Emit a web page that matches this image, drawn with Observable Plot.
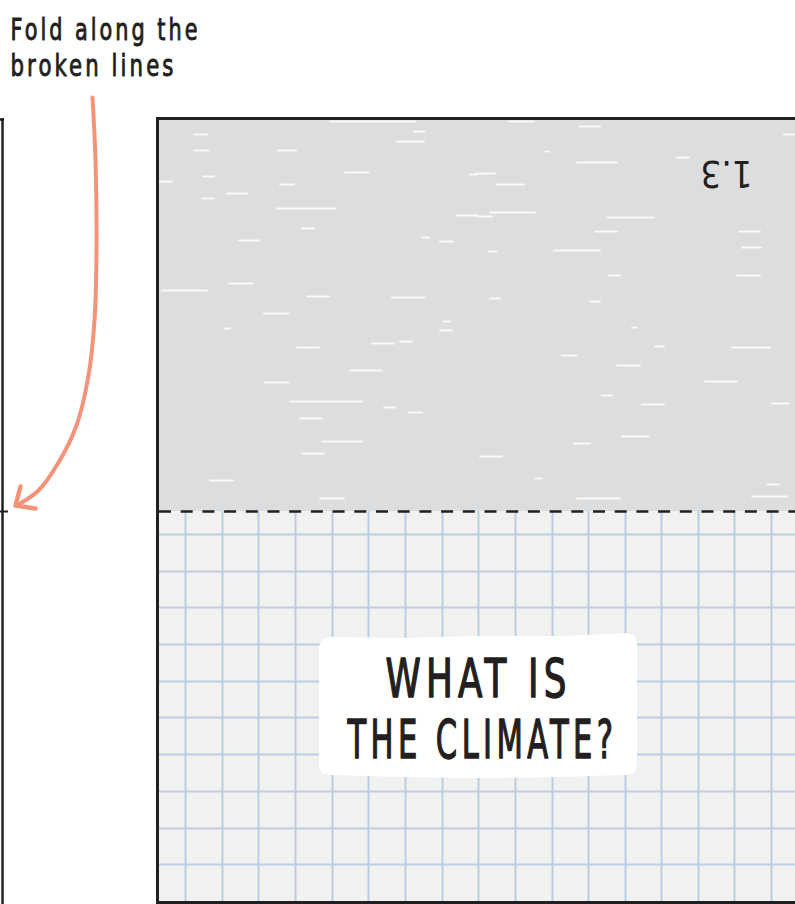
<!DOCTYPE html>
<html>
<head>
<meta charset="utf-8">
<script src="https://cdn.jsdelivr.net/npm/d3@7"></script>
<script src="https://cdn.jsdelivr.net/npm/@observablehq/plot@0.6"></script>
<style>
  html, body { margin: 0; padding: 0; background: #ffffff; }
  #chart svg { display: block; }
</style>
</head>
<body>
<div id="chart"></div>
<script>
// ---- values ----
const foldNote = ["Fold along the", "broken lines"];
const pageNumber = "1.3";
const titleLines = ["WHAT IS", "THE CLIMATE?"];

// grid-paper lines (lower panel)
const gridX = [185, 222, 258, 295, 332, 368, 405, 442, 478, 515, 552, 588, 625, 661, 698, 734, 771];
const gridY = [534, 571, 607, 644, 681, 717, 754, 791, 828, 864];

// white chalky streaks on the grey upper panel: [x1, x2, y]
const streakX1 = [194,194,278,397,414,345,203,159,280,227,202,277,457,470,302,239,440,422,162,229,307,392,264,330,
                  580,509,577,677,477,497,490,477,607,595,739,742,554,489,609,737,490,590,784,545,
                  297,372,400,440,444,350,265,290,384,409,300,322,302,210,320,225,
                  562,617,732,705,642,772,602,622,574,480,535,577,752,767,655,632];
const streakX2 = [207,209,296,424,425,369,214,172,294,247,214,335,477,477,314,259,453,429,207,253,329,425,289,415,
                  600,534,617,689,495,524,535,492,654,617,760,761,600,497,620,760,500,600,795,549,
                  319,394,412,452,450,382,289,362,395,422,322,362,324,233,344,230,
                  577,640,770,737,664,789,612,649,590,502,542,620,787,779,664,637];
const streakY  = [134,150,150,141,131,172,176,181,184,193,198,208,215,174,228,240,241,237,290,283,296,297,313,121,
                  126,121,162,157,173,184,212,216,217,231,231,247,250,251,275,275,298,301,134,151,
                  347,343,341,330,321,370,382,401,407,412,418,441,453,480,498,328,
                  355,365,347,381,404,403,395,436,443,456,478,498,496,484,346,327];

// rough white label patch
const patchX = [319, 322, 330, 400, 478, 560, 626, 634, 637];
const patchTop = [646, 639, 637, 638, 636, 636, 633, 635, 643];
const patchBottom = [768, 773, 775, 777, 778, 777, 775, 773, 765];

// hand-drawn arrow
const arrowX = [92, 95, 96, 94, 88, 76, 58, 38, 16];
const arrowY = [97, 160, 250, 320, 375, 425, 462, 490, 505];
const headX = [20, 15, 35];
const headY = [486, 505, 508];

// ---- build tables ----
const streaks = streakY.map((y, i) => ({x1: streakX1[i], x2: streakX2[i], y}));
const patch = patchX.map((x, i) => ({x, y1: patchTop[i], y2: patchBottom[i]}));
const arrow = arrowX.map((x, i) => ({x, y: arrowY[i]}));
const head = headX.map((x, i) => ({x, y: headY[i]}));

const ink = "#231f20";
const handFont = "'DejaVu Sans Condensed', 'Liberation Sans Narrow', 'DejaVu Sans', sans-serif";

const plot = Plot.plot({
  width: 795,
  height: 904,
  margin: 0,
  x: {domain: [0, 795], range: [0, 795], axis: null},
  y: {domain: [0, 904], range: [0, 904], axis: null},
  style: {background: "#ffffff", overflow: "visible"},
  marks: [
    // grey top panel and grid-paper bottom panel
    Plot.rect([{x1: 157, x2: 795, y1: 118, y2: 511}], {x1: "x1", x2: "x2", y1: "y1", y2: "y2", fill: "#dcdddf"}),
    Plot.rect([{x1: 157, x2: 795, y1: 511, y2: 902}], {x1: "x1", x2: "x2", y1: "y1", y2: "y2", fill: "#f1f1ef"}),
    Plot.ruleX(gridX, {x: d => d, y1: 511, y2: 902, stroke: "#b9cee3", strokeWidth: 2}),
    Plot.ruleY(gridY, {y: d => d, x1: 157, x2: 795, stroke: "#b9cee3", strokeWidth: 2}),
    // streaks
    Plot.ruleY(streaks, {y: "y", x1: "x1", x2: "x2", stroke: "#ffffff", strokeWidth: 1.8, strokeOpacity: 0.85, strokeLinecap: "round"}),
    // card borders
    Plot.ruleX([157], {x: d => d, y1: 117, y2: 903, stroke: ink, strokeWidth: 3}),
    Plot.ruleY([118], {y: d => d, x1: 156, x2: 795, stroke: ink, strokeWidth: 3}),
    Plot.ruleY([902], {y: d => d, x1: 156, x2: 795, stroke: ink, strokeWidth: 3}),
    // fold line
    Plot.ruleY([511], {y: d => d, x1: 159, x2: 795, stroke: ink, strokeWidth: 2.5, strokeDasharray: "12 9.7"}),
    // left neighbouring card edge
    Plot.ruleX([2], {x: d => d, y1: 118, y2: 904, stroke: ink, strokeWidth: 2.5}),
    Plot.ruleY([119], {y: d => d, x1: 0, x2: 4, stroke: ink, strokeWidth: 2.5}),
    Plot.ruleY([511], {y: d => d, x1: 0, x2: 8, stroke: ink, strokeWidth: 2}),
    // white label patch
    Plot.areaY(patch, {x: "x", y1: "y1", y2: "y2", fill: "#ffffff", curve: "linear"}),
    // title
    Plot.text([titleLines[0]], {x: 385, y: 696, text: d => d, textAnchor: "start", lineAnchor: "bottom",
      fontSize: 54, fill: ink, stroke: ink, strokeWidth: 1.4, fontFamily: handFont}),
    Plot.text([titleLines[1]], {x: 347, y: 757, text: d => d, textAnchor: "start", lineAnchor: "bottom",
      fontSize: 54, fill: ink, stroke: ink, strokeWidth: 1.4, fontFamily: handFont}),
    // upside-down page number
    Plot.text([pageNumber], {x: 752, y: 160, text: d => d, textAnchor: "start", lineAnchor: "bottom",
      rotate: 180, fontSize: 38, fill: ink, fontFamily: handFont}),
    // fold note
    Plot.text([foldNote[0]], {x: 10, y: 39, text: d => d, textAnchor: "start", lineAnchor: "bottom",
      fontSize: 31, fill: ink, stroke: ink, strokeWidth: 0.9, fontFamily: handFont}),
    Plot.text([foldNote[1]], {x: 10, y: 75, text: d => d, textAnchor: "start", lineAnchor: "bottom",
      fontSize: 31, fill: ink, stroke: ink, strokeWidth: 0.9, fontFamily: handFont}),
    // arrow
    Plot.line(arrow, {x: "x", y: "y", curve: "catmull-rom", stroke: "#f4937a", strokeWidth: 4, strokeLinecap: "round"}),
    Plot.line(head, {x: "x", y: "y", curve: "linear", stroke: "#f4937a", strokeWidth: 4.5, strokeLinecap: "round", strokeLinejoin: "round"})
  ]
});

document.getElementById("chart").appendChild(plot);

// fit narrow, widely spaced hand-lettered text to widths measured on the picture
const widths = {"WHAT IS": 186, "THE CLIMATE?": 270, "1.3": 52, "Fold along the": 190, "broken lines": 166};
d3.select(plot).selectAll("text").each(function () {
  const t = this.textContent;
  if (widths[t] != null) {
    if (t !== "1.3") this.style.letterSpacing = "0.13em";
    this.setAttribute("textLength", widths[t]);
    this.setAttribute("lengthAdjust", "spacingAndGlyphs");
  }
});
</script>
</body>
</html>
